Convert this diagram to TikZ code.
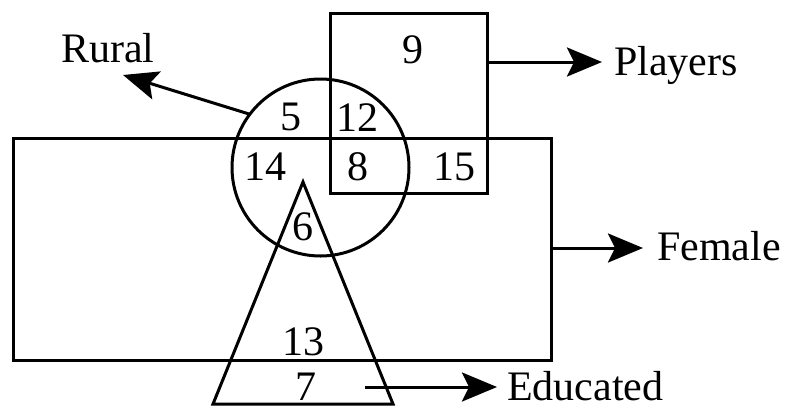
\documentclass[tikz,border=0pt]{standalone}
\usepackage{fontspec}
\setmainfont{Liberation Serif}
\usetikzlibrary{arrows.meta}
\begin{document}
\begin{tikzpicture}[x=1pt,y=-1pt,
  shapeline/.style={draw=black,line width=3pt,inner sep=0pt,outer sep=0pt},
  num/.style={anchor=base,inner sep=0pt,font=\fontsize{42}{46}\selectfont},
  lab/.style={anchor=base west,inner sep=0pt,font=\fontsize{42}{46}\selectfont},
  arr/.style={line width=3pt,-{Stealth[length=35pt,width=29pt,inset=7pt]}}]
\useasboundingbox (0,0) rectangle (788,408);
% shapes
\node[shapeline,rectangle,minimum width=538pt,minimum height=222pt] (female) at (282,249.5) {};
\node[shapeline,rectangle,minimum width=157pt,minimum height=180pt] (players) at (408.5,103) {};
\node[shapeline,circle,minimum size=177pt] (rural) at (320.5,167.5) {};
\coordinate (tapex) at (303,182);
\coordinate (tleft) at (213,404);
\coordinate (tright) at (393,404);
\draw[line width=3pt,line join=miter] (tapex) -- (tleft) -- (tright) -- cycle;
% numbers
\node[num] (n9) at (413,63) {9};
\node[num] (n5) at (291,130) {5};
\node[num] (n12) at (357,131) {12};
\node[num] (n14) at (265,180) {14};
\node[num] (n8) at (358,180) {8};
\node[num] (n15) at (454,180) {15};
\node[num] (n6) at (303,240) {6};
\node[num] (n13) at (303,355) {13};
\node[num] (n7) at (306,400) {7};
% labels
\node[num] (lrural) at (108,62) {Rural};
\node[lab] (lplayers) at (614,75) {Players};
\node[lab] (lfemale) at (657,260) {Female};
\node[lab] (leducated) at (507,400) {Educated};
% arrow ends
\coordinate (ptip) at (602,62);
\coordinate (rtip) at (123,75);
\coordinate (ftip) at (643,248);
\coordinate (estart) at (365,387);
\coordinate (etip) at (497,387);
\draw[arr] (players.east |- ptip) -- (ptip);
\draw[arr] (rural.143.4) -- (rtip);
\draw[arr] (female.east |- ftip) -- (ftip);
\draw[arr] (estart) -- (etip);
\end{tikzpicture}
\end{document}
